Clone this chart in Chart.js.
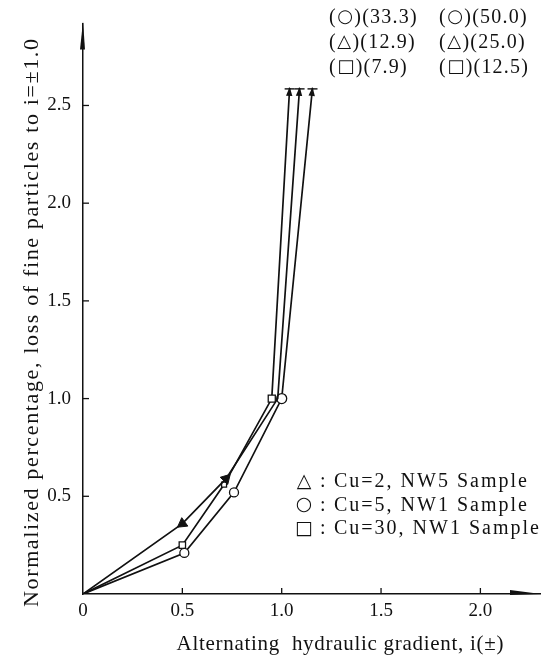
<!DOCTYPE html>
<html>
<head>
<meta charset="utf-8">
<script src="https://cdn.jsdelivr.net/npm/chart.js@4.4.1/dist/chart.umd.min.js"></script>
<style>
html, body { margin: 0; padding: 0; background: #fff; }
</style>
</head>
<body>
<canvas id="graphe" width="549" height="656"></canvas>
<script>
// ---------------------------------------------------------
// Données : i(±) et pourcentage normalisé (réf. i = ±1.0)
// ---------------------------------------------------------
const cu2X  = [0, 0.50, 0.72, 0.98, 1.09];
const cu2Y  = [0, 0.36, 0.59, 1.00, 2.59];
const cu5X  = [0, 0.51, 0.76, 1.00, 1.155];
const cu5Y  = [0, 0.21, 0.52, 1.00, 2.59];
const cu30X = [0, 0.50, 0.71, 0.95, 1.04];
const cu30Y = [0, 0.25, 0.56, 1.00, 2.59];

// valeurs hors échelle (colonne gauche / colonne droite)
const horsEchelleA = ['33.3', '12.9', '7.9'];
const horsEchelleB = ['50.0', '25.0', '12.5'];
const symboles     = ['○', '△', '□'];

const xTicks = [0, 0.5, 1.0, 1.5, 2.0];
const xTickLabels = ['0', '0.5', '1.0', '1.5', '2.0'];
const yTicks = [0.5, 1.0, 1.5, 2.0, 2.5];
const yTickLabels = ['0.5', '1.0', '1.5', '2.0', '2.5'];

const legendeSymboles = ['△', '○', '□'];
const legendeTextes = ['Cu=2, NW5 Sample', 'Cu=5, NW1 Sample', 'Cu=30, NW1 Sample'];

const titreX = 'Alternating  hydraulic gradient, i(±)';
const titreY = 'Normalized percentage, loss of fine particles to i=±1.0';

const ENCRE = '#111';
const SERIF = '"Liberation Serif", "DejaVu Serif", serif';
const SYMB  = '"DejaVu Sans", "Liberation Serif", sans-serif';

function points(xs, ys) {
    return xs.map((x, i) => ({ x: x, y: ys[i] }));
}

// texte avec espacement supplémentaire entre caractères
function largeurEspacee(ctx, txt, extra) {
    let w = 0;
    const chars = Array.from(txt);
    chars.forEach(ch => { w += ctx.measureText(ch).width; });
    return w + extra * (chars.length - 1);
}
function texteEspace(ctx, txt, x, y, extra) {
    let cx = x;
    for (const ch of txt) {
        ctx.fillText(ch, cx, y);
        cx += ctx.measureText(ch).width + extra;
    }
}
// texte centré, étiré à une largeur donnée
function texteAjuste(ctx, txt, cx, y, largeur) {
    const n = Array.from(txt).length;
    const nat = largeurEspacee(ctx, txt, 0);
    const extra = (largeur - nat) / (n - 1);
    texteEspace(ctx, txt, cx - largeur / 2, y, extra);
}

// orientation des triangles pleins le long de la courbe
function rotationTriangle(c) {
    const d = c.dataset.data;
    const i = c.dataIndex;
    if (i <= 0 || i >= d.length - 1) return 0;
    if (i === 1) {
        return Math.atan2(d[0].x - d[1].x, d[0].y - d[1].y) * 180 / Math.PI;
    }
    return Math.atan2(d[i].x - d[i - 1].x, d[i].y - d[i - 1].y) * 180 / Math.PI;
}

// ---------------------------------------------------------
// Décor : graduations internes, flèches d'axes, titres, légende
// ---------------------------------------------------------
const decor = {
    id: 'decor',
    afterDraw(chart) {
        const ctx = chart.ctx;
        const xs = chart.scales.x, ys = chart.scales.y;
        const zone = chart.chartArea;
        ctx.save();
        ctx.strokeStyle = ENCRE;
        ctx.fillStyle = ENCRE;
        ctx.lineWidth = 1.3;

        // graduations vers l'intérieur
        xTicks.forEach(v => {
            if (v === 0) return;
            const px = xs.getPixelForValue(v);
            ctx.beginPath(); ctx.moveTo(px, zone.bottom); ctx.lineTo(px, zone.bottom - 6); ctx.stroke();
        });
        yTicks.forEach(v => {
            const py = ys.getPixelForValue(v);
            ctx.beginPath(); ctx.moveTo(zone.left, py); ctx.lineTo(zone.left + 6, py); ctx.stroke();
        });

        // flèche de l'axe vertical
        ctx.beginPath();
        ctx.moveTo(zone.left, zone.top - 2);
        ctx.lineTo(zone.left - 3, zone.top + 26);
        ctx.lineTo(zone.left + 2, zone.top + 26);
        ctx.closePath(); ctx.fill();
        // flèche de l'axe horizontal
        ctx.beginPath();
        ctx.moveTo(zone.right + 1, zone.bottom);
        ctx.lineTo(zone.right - 30, zone.bottom - 4);
        ctx.lineTo(zone.right - 30, zone.bottom + 1);
        ctx.closePath(); ctx.fill();

        // pointes de flèche en bout de courbe (valeurs hors échelle)
        chart.data.datasets.forEach((ds, k) => {
            const meta = chart.getDatasetMeta(k);
            const n = meta.data.length;
            const a = meta.data[n - 2], b = meta.data[n - 1];
            const ang = Math.atan2(b.y - a.y, b.x - a.x);
            ctx.save();
            ctx.translate(b.x, b.y);
            ctx.rotate(ang);
            ctx.beginPath();
            ctx.moveTo(1, 0); ctx.lineTo(-8, -3.2); ctx.lineTo(-8, 3.2); ctx.closePath(); ctx.fill();
            ctx.restore();
            ctx.lineWidth = 1.4;
            ctx.beginPath(); ctx.moveTo(b.x - 5, b.y + 1); ctx.lineTo(b.x + 5, b.y + 1); ctx.stroke();
        });

        // titre de l'axe X
        ctx.font = '21px ' + SERIF;
        ctx.textBaseline = 'middle';
        ctx.textAlign = 'left';
        texteAjuste(ctx, titreX, 340, 644, 327);

        // titre de l'axe Y (vertical)
        ctx.save();
        ctx.translate(38, 323);
        ctx.rotate(-Math.PI / 2);
        ctx.textBaseline = 'alphabetic';
        ctx.font = '22px ' + SERIF;
        texteAjuste(ctx, titreY, 0, 0, 568);
        ctx.restore();

        // légende en bas à droite
        ctx.textBaseline = 'middle';
        legendeTextes.forEach((t, i) => {
            const y = 482 + i * 23.5;
            ctx.font = '19px ' + SYMB;
            ctx.textAlign = 'center';
            ctx.fillText(legendeSymboles[i], 304, y);
            ctx.textAlign = 'left';
            ctx.font = '20px ' + SERIF;
            ctx.fillText(':', 320, y);
            texteEspace(ctx, t, 334, y, 2.0);
        });

        // tableau des valeurs hors échelle en haut à droite
        for (let i = 0; i < 3; i++) {
            const y = 17.5 + i * 25;
            [[329, horsEchelleA[i]], [439, horsEchelleB[i]]].forEach(([x0, val]) => {
                ctx.font = '20px ' + SERIF;
                let cx = x0;
                ctx.fillText('(', cx, y); cx += ctx.measureText('(').width + 1.5;
                ctx.font = '18px ' + SYMB;
                ctx.fillText(symboles[i], cx, y); cx += ctx.measureText(symboles[i]).width + 1.5;
                ctx.font = '20px ' + SERIF;
                texteEspace(ctx, ')(' + val + ')', cx, y, 1.2);
            });
        }
        ctx.restore();
    }
};

// ---------------------------------------------------------
// Graphique
// ---------------------------------------------------------
const ctx = document.getElementById('graphe').getContext('2d');
new Chart(ctx, {
    type: 'line',
    data: {
        datasets: [
            {
                label: 'Cu=2, NW5 Sample',
                data: points(cu2X, cu2Y),
                borderColor: ENCRE,
                borderWidth: 1.7,
                pointStyle: 'triangle',
                pointRadius: [0, 6, 6, 0, 0],
                pointBackgroundColor: ENCRE,
                pointBorderColor: ENCRE,
                pointBorderWidth: 1,
                pointRotation: rotationTriangle,
                tension: 0
            },
            {
                label: 'Cu=5, NW1 Sample',
                data: points(cu5X, cu5Y),
                borderColor: ENCRE,
                borderWidth: 1.7,
                pointStyle: 'circle',
                pointRadius: [0, 4.5, 4.5, 5, 0],
                pointBackgroundColor: '#fff',
                pointBorderColor: ENCRE,
                pointBorderWidth: 1.3,
                tension: 0
            },
            {
                label: 'Cu=30, NW1 Sample',
                data: points(cu30X, cu30Y),
                borderColor: ENCRE,
                borderWidth: 1.7,
                pointStyle: 'rect',
                pointRadius: [0, 4.5, 3.5, 5, 0],
                pointBackgroundColor: '#fff',
                pointBorderColor: ENCRE,
                pointBorderWidth: 1.3,
                tension: 0
            }
        ]
    },
    options: {
        responsive: false,
        devicePixelRatio: 1,
        animation: false,
        layout: { padding: { top: 21, right: 9, left: 0, bottom: 0 } },
        plugins: { legend: { display: false }, tooltip: { enabled: false } },
        scales: {
            x: {
                type: 'linear',
                min: 0,
                max: 2.3,
                afterFit: s => { s.height = 62; },
                afterBuildTicks: s => { s.ticks = xTicks.map(v => ({ value: v })); },
                grid: { display: false, drawTicks: false },
                border: { display: true, color: ENCRE, width: 1.5 },
                ticks: {
                    padding: 6,
                    color: ENCRE,
                    font: { family: SERIF, size: 19 },
                    maxRotation: 0,
                    autoSkip: false,
                    callback: (v) => xTickLabels[xTicks.indexOf(v)]
                }
            },
            y: {
                type: 'linear',
                min: 0,
                max: 2.92,
                afterFit: s => { s.width = 83; },
                afterBuildTicks: s => { s.ticks = yTicks.map(v => ({ value: v })); },
                grid: { display: false, drawTicks: false },
                border: { display: true, color: ENCRE, width: 1.5 },
                ticks: {
                    padding: 12,
                    color: ENCRE,
                    font: { family: SERIF, size: 19 },
                    autoSkip: false,
                    callback: (v) => yTickLabels[yTicks.indexOf(v)]
                }
            }
        }
    },
    plugins: [decor]
});
</script>
</body>
</html>
